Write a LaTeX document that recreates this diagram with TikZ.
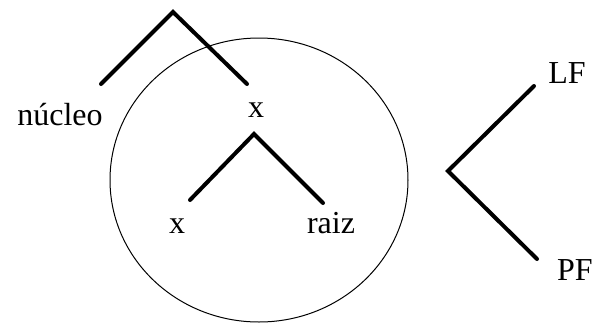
\documentclass[tikz,border=0pt]{standalone}
\usepackage{fontspec}
\setmainfont{Liberation Serif}

\begin{document}
\begin{tikzpicture}[x=1pt, y=-1pt,
		branch/.style={line width=4pt, line cap=round, line join=miter},
		lbl/.style={font=\fontsize{32}{36}\selectfont, inner sep=0pt, anchor=base}]
	
	\useasboundingbox (0,0) rectangle (595,322);
	
	% The circle round the lower tree
	\draw[line width=1pt] (259,180) ellipse [x radius=149, y radius=142];
	
	% Define points
	\coordinate (top)   at (173,12);   % upper apex
	\coordinate (topL)  at (101,84);
	\coordinate (topR)  at (247,84);
	\coordinate (mid)   at (254,134);  % lower apex
	\coordinate (midL)  at (190,200);
	\coordinate (midR)  at (323,203);
	\coordinate (split) at (448,171);  % LF / PF split
	\coordinate (lf)    at (534,86);
	\coordinate (pf)    at (537,259);
	
	% Branches
	\draw[branch] (topL) -- (top) -- (topR);
	\draw[branch] (midL) -- (mid) -- (midR);
	\draw[branch] (lf) -- (split) -- (pf);
	
	% Labels
	\node[lbl] (nucleo) at (60,125)  {núcleo};
	\node[lbl] (xtop)   at (256,117) {x};
	\node[lbl] (xlow)   at (177,233) {x};
	\node[lbl] (raiz)   at (331,233) {raiz};
	\node[lbl] (LF)     at (567,83)  {LF};
	\node[lbl] (PF)     at (575,280) {PF};
	
\end{tikzpicture}
\end{document}
